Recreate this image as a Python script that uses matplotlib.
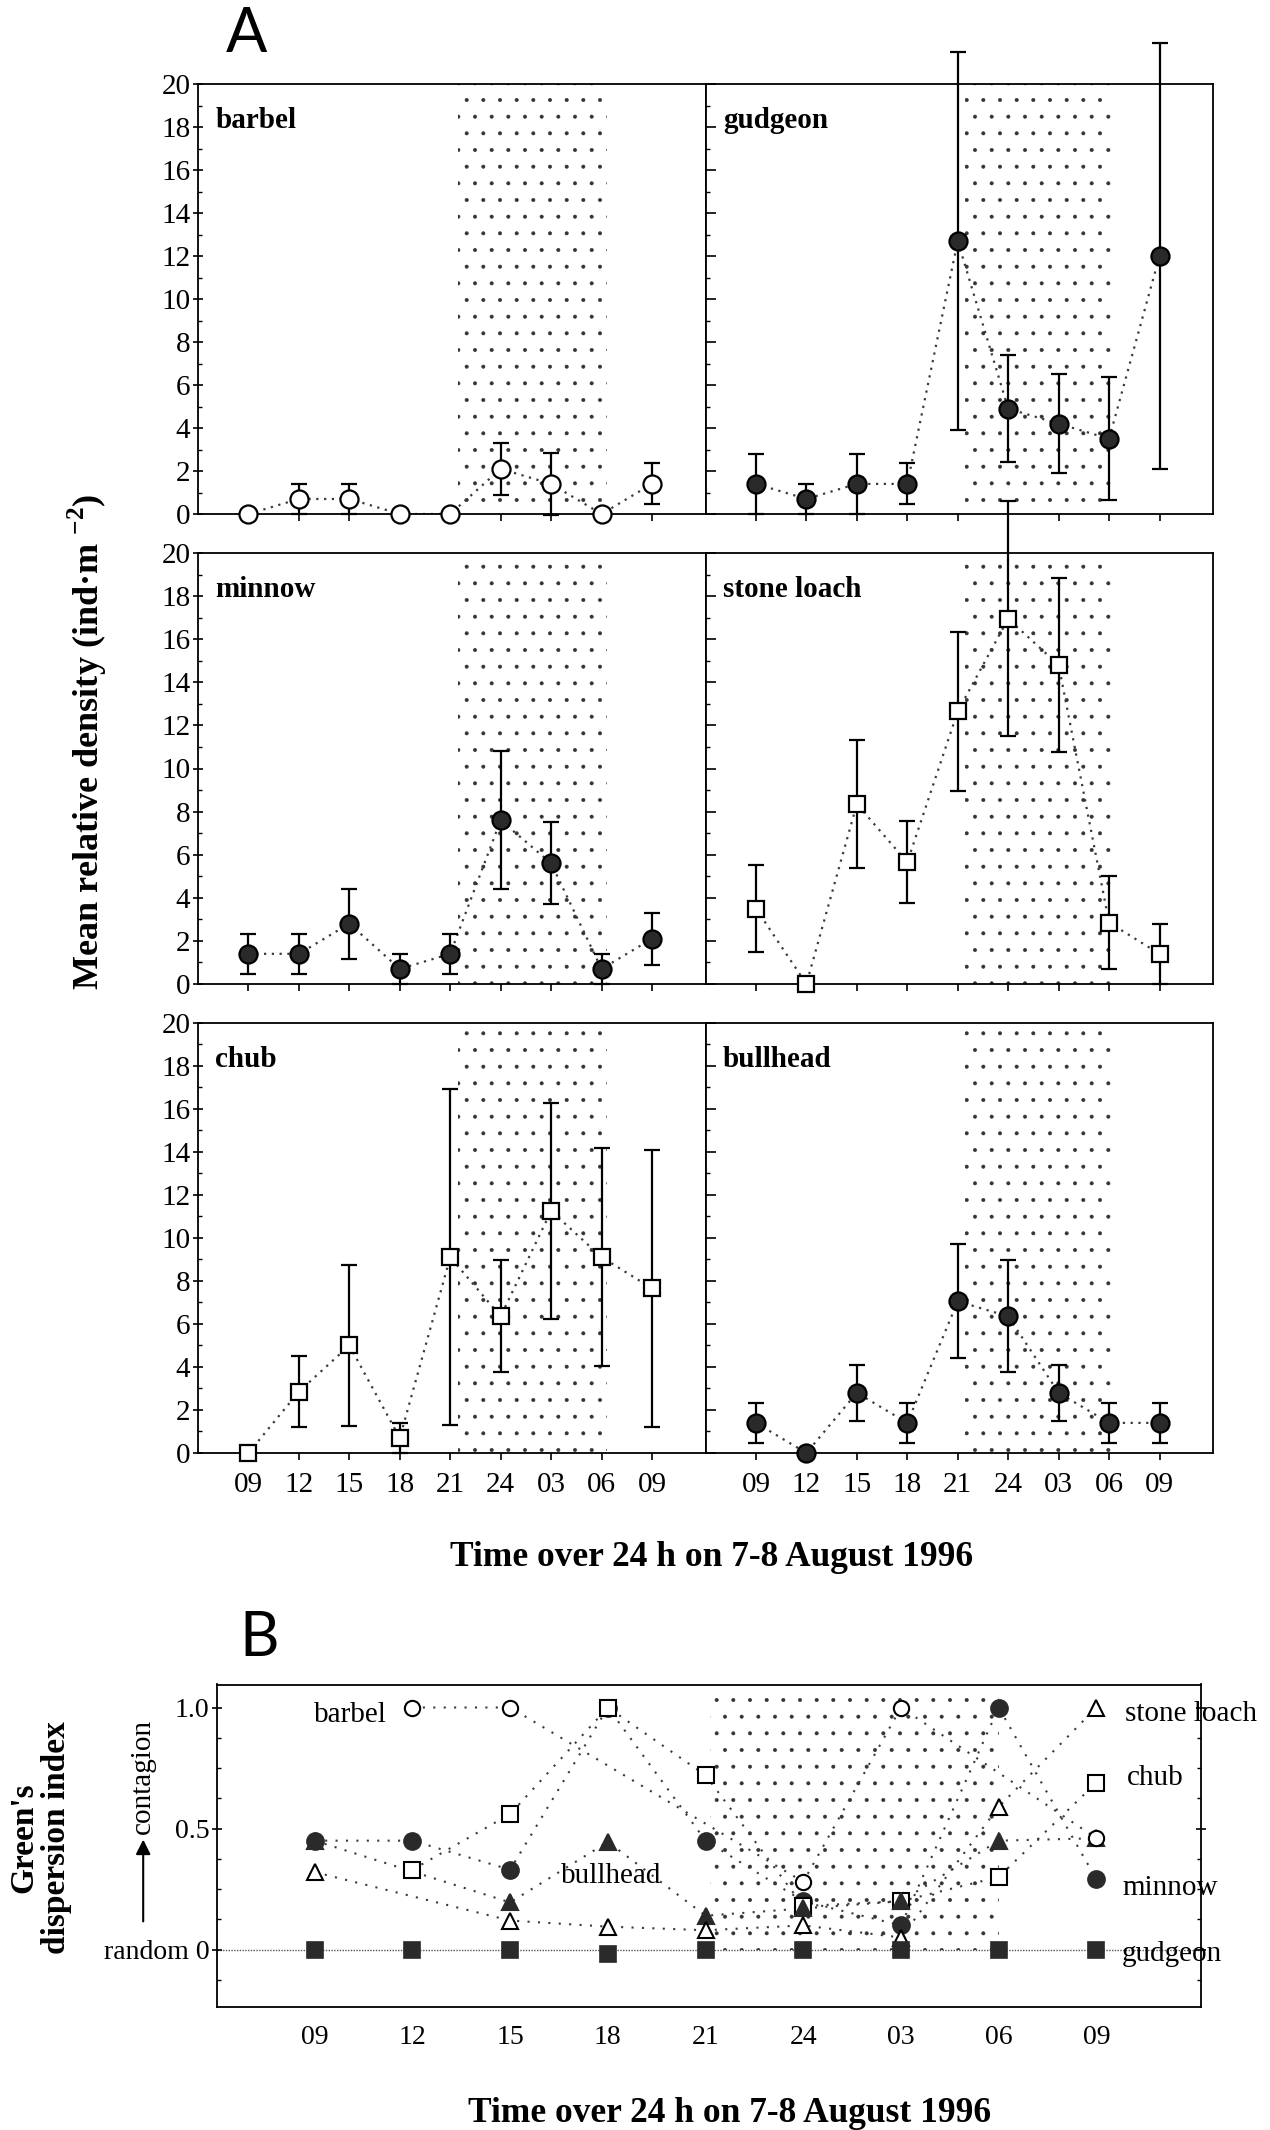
import numpy as np
import matplotlib
matplotlib.use('Agg')
import matplotlib.pyplot as plt
from matplotlib.ticker import MultipleLocator

W, H = 1270, 2130
nan = np.nan

times = ['09', '12', '15', '18', '21', '24', '03', '06', '09']

# A: mean relative density (ind m-2) with error bar half length
barbel_mean = [0, 0.7, 0.7, 0, 0, 2.1, 1.4, 0, 1.4]
barbel_err = [0, 0.7, 0.7, 0, 0, 1.2, 1.45, 0, 0.95]
gudgeon_mean = [1.4, 0.7, 1.4, 1.4, 12.7, 4.9, 4.2, 3.5, 12.0]
gudgeon_err = [1.4, 0.7, 1.4, 0.95, 8.8, 2.5, 2.3, 2.85, 9.9]
minnow_mean = [1.4, 1.4, 2.8, 0.7, 1.4, 7.6, 5.6, 0.7, 2.1]
minnow_err = [0.93, 0.93, 1.63, 0.7, 0.93, 3.2, 1.9, 0.7, 1.2]
stone_mean = [3.5, 0, 8.35, 5.65, 12.65, 16.95, 14.8, 2.85, 1.4]
stone_err = [2.0, 0, 2.95, 1.9, 3.7, 5.45, 4.05, 2.15, 1.4]
chub_mean = [0, 2.85, 5.0, 0.7, 9.1, 6.35, 11.25, 9.1, 7.65]
chub_err = [0, 1.65, 3.75, 0.7, 7.8, 2.6, 5.0, 5.05, 6.45]
bullhead_mean = [1.4, 0, 2.8, 1.4, 7.05, 6.35, 2.8, 1.4, 1.4]
bullhead_err = [0.94, 0, 1.3, 0.94, 2.65, 2.6, 1.3, 0.94, 0.94]

# B: Green's dispersion index (nan = not defined)
g_barbel = [nan, 1.0, 1.0, nan, nan, 0.28, 1.0, nan, 0.46]
g_gudgeon = [0, 0, 0, -0.017, 0, 0, 0, 0, 0]
g_minnow = [0.45, 0.45, 0.33, 1.0, 0.45, 0.20, 0.10, 1.0, 0.29]
g_stone = [0.32, nan, 0.12, 0.095, 0.08, 0.10, 0.05, 0.59, 1.0]
g_chub = [nan, 0.33, 0.56, 1.0, 0.72, 0.18, 0.20, 0.30, 0.69]
g_bullhead = [0.45, nan, 0.195, 0.445, 0.14, 0.17, 0.20, 0.45, 0.46]

night_a = (4.15, 7.1)
night_b = (4.05, 7.0)

plt.rcParams['font.family'] = ['Liberation Serif', 'DejaVu Serif']
plt.rcParams['mathtext.fontset'] = 'custom'
plt.rcParams['mathtext.rm'] = 'Liberation Serif'
plt.rcParams['mathtext.bf'] = 'Liberation Serif:bold'
plt.rcParams['hatch.linewidth'] = 0.4
plt.rcParams['hatch.color'] = '#333333'

fig = plt.figure(figsize=(W / 100, H / 100), dpi=100)


def px_axes(x0, y0, x1, y1):
    return fig.add_axes([x0 / W, 1 - y1 / H, (x1 - x0) / W, (y1 - y0) / H])


def px_text(x, y, s, **kw):
    fig.text(x / W, 1 - y / H, s, **kw)


DARK = '#2a2a2a'
LINE = '#3a3a3a'
x = np.arange(len(times))

panels = [
    ('barbel', barbel_mean, barbel_err, 'o', 'white'),
    ('gudgeon', gudgeon_mean, gudgeon_err, 'o', DARK),
    ('minnow', minnow_mean, minnow_err, 'o', DARK),
    ('stone loach', stone_mean, stone_err, 's', 'white'),
    ('chub', chub_mean, chub_err, 's', 'white'),
    ('bullhead', bullhead_mean, bullhead_err, 'o', DARK),
]
cols = [(198, 705.5), (705.5, 1213)]
rows = [(84, 514), (553, 984), (1022.6, 1453)]

for i, (name, mean, err, mk, fc) in enumerate(panels):
    r, c = divmod(i, 2)
    ax = px_axes(cols[c][0], rows[r][0], cols[c][1], rows[r][1])
    ax.set_xlim(-1, 9.06)
    ax.set_ylim(0, 20)
    ax.fill_between(night_a, 0, 20, facecolor='none', edgecolor='#333333',
                    hatch='.', linewidth=0, zorder=1)
    mean = np.array(mean)
    err = np.array(err)
    ax.plot(x, mean, ls=(0, (1, 2.5)), lw=1.6, color=LINE, zorder=2)
    ok = err > 0
    eb = ax.errorbar(x[ok], mean[ok], yerr=err[ok], fmt='none', ecolor='k',
                     elinewidth=1.6, capsize=6, capthick=1.6, zorder=3)
    for art in eb.lines[1] + eb.lines[2]:
        art.set_clip_on(False)
    ms = 13 if mk == 'o' else 12
    ax.plot(x, mean, ls='none', marker=mk, ms=ms, mfc=fc, mec='k', mew=1.6,
            zorder=4, clip_on=False)
    ax.text(0.034, 0.898, name, transform=ax.transAxes, fontsize=21,
            fontweight='bold', va='baseline', ha='left')

    ax.yaxis.set_major_locator(MultipleLocator(2))
    ax.yaxis.set_minor_locator(MultipleLocator(1))
    ax.set_xticks(x)
    ax.set_xticklabels(times)
    ax.tick_params(axis='y', which='major', direction='inout', length=7,
                   width=1.2, labelsize=21, pad=2)
    ax.tick_params(axis='y', which='minor', direction='in', length=3, width=1)
    ax.tick_params(axis='x', direction='out', length=5, width=1.2,
                   labelsize=21, pad=9)
    if c == 1:
        ax.tick_params(axis='y', which='both', labelleft=False, direction='in')
    if r < 2:
        ax.tick_params(axis='x', labelbottom=False)
    for sp in ax.spines.values():
        sp.set_linewidth(1.3)

px_text(246, 34, 'A', fontsize=44, family=['Lato', 'DejaVu Sans'],
        ha='center', va='center')
px_text(87, 742, 'Mean relative density (ind\u00b7m $^{\\mathbf{-2}}$)',
        rotation=90, fontsize=26, fontweight='bold', ha='center', va='center')
px_text(712, 1557, 'Time over 24 h on 7-8 August 1996', fontsize=25.5,
        fontweight='bold', ha='center', va='center')

# panel B
axb = px_axes(217, 1684.5, 1201, 2007)
axb.set_xlim(-1, 9.07)
axb.set_ylim(-0.237, 1.095)
axb.fill_between(night_b, 0.0, 1.07, facecolor='none', edgecolor='#333333',
                 hatch='.', linewidth=0, zorder=1)
axb.axhline(0, ls=(0, (1, 1)), lw=1.0, color='#555555', zorder=1)

series_b = [
    ('minnow', g_minnow, 'o', DARK, 12),
    ('chub', g_chub, 's', 'white', 12),
    ('bullhead', g_bullhead, '^', DARK, 12),
    ('stone loach', g_stone, '^', 'white', 12),
    ('barbel', g_barbel, 'o', 'white', 11),
]
for name, vals, mk, fc, ms in series_b:
    v = np.array(vals)
    ok = ~np.isnan(v)
    axb.plot(x[ok], v[ok], ls=(0, (1, 4)), lw=1.5, color=LINE, zorder=2)
for name, vals, mk, fc, ms in series_b:
    ec = 'k' if fc == 'white' else DARK
    axb.plot(x, vals, ls='none', marker=mk, ms=ms, mfc=fc, mec=ec, mew=1.5,
             zorder=4, clip_on=False)
axb.plot(x, g_gudgeon, ls='none', marker='s', ms=12, mfc=DARK, mec=DARK,
         mew=1.2, zorder=5, clip_on=False)

lab = dict(fontsize=21, va='baseline', clip_on=False)
axb.text(0.74, 0.94, 'barbel', ha='right', **lab)
axb.text(3.03, 0.274, 'bullhead', ha='center', **lab)
axb.text(8.29, 0.943, 'stone loach', ha='left', **lab)
axb.text(8.31, 0.679, 'chub', ha='left', **lab)
axb.text(8.27, 0.225, 'minnow', ha='left', **lab)
axb.text(8.26, -0.046, 'gudgeon', ha='left', **lab)

axb.set_xticks(x)
axb.set_xticklabels(times)
axb.set_yticks([0, 0.5, 1.0])
axb.set_yticklabels(['random 0', '0.5', '1.0'])
axb.yaxis.set_minor_locator(MultipleLocator(0.125))
axb.tick_params(axis='x', length=0, labelsize=20, pad=13)
axb.tick_params(axis='y', which='major', direction='inout', length=7,
                width=1.2, labelsize=20, pad=2, right=True)
axb.tick_params(axis='y', which='minor', direction='in', length=3, width=1,
                right=True)
for sp in axb.spines.values():
    sp.set_linewidth(1.3)

axb.annotate('', xy=(-0.075, 0.466), xytext=(-0.075, 0.105),
             xycoords=('axes fraction', 'data'),
             textcoords=('axes fraction', 'data'), annotation_clip=False,
             arrowprops=dict(arrowstyle='-|>', color='k', lw=1.5,
                             mutation_scale=22))

px_text(259, 1639, 'B', fontsize=44, family=['Lato', 'DejaVu Sans'],
        ha='center', va='center')
px_text(40, 1838, "Green's\ndispersion index", rotation=90, fontsize=24,
        fontweight='bold', ha='center', va='center', linespacing=1.05,
        multialignment='center')
px_text(143, 1776, 'contagion', rotation=90, fontsize=21, ha='center',
        va='center')
px_text(730, 2114, 'Time over 24 h on 7-8 August 1996', fontsize=25.5,
        fontweight='bold', ha='center', va='center')

fig.savefig('out.png', dpi=100)
